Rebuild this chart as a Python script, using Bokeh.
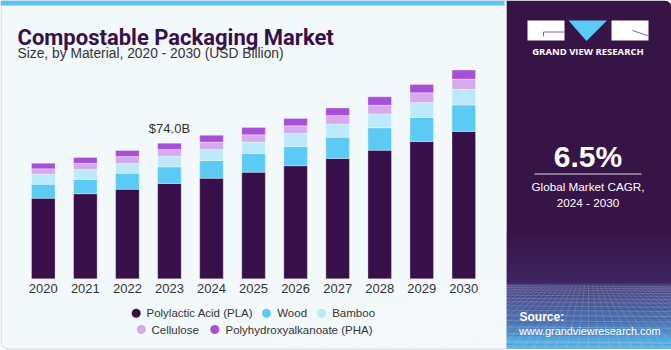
from bokeh.plotting import figure
from bokeh.models import Range1d, ColumnDataSource, Quad
from bokeh.core.properties import value
from bokeh.embed import file_html
from bokeh.resources import INLINE

# ---------------- data ----------------
years = [2020, 2021, 2022, 2023, 2024, 2025, 2026, 2027, 2028, 2029, 2030]
pla = [44.0, 46.4, 48.9, 52.0, 54.9, 58.2, 61.7, 65.7, 70.2, 74.9, 80.4]
wood = [7.6, 7.8, 8.7, 9.1, 9.7, 10.2, 10.5, 11.5, 12.2, 13.1, 14.4]
bamboo = [5.5, 5.5, 5.3, 5.8, 6.0, 6.2, 7.1, 7.3, 7.6, 8.2, 8.6]
cellulose = [2.9, 3.4, 3.8, 3.7, 4.0, 4.0, 4.2, 4.6, 4.7, 5.3, 5.6]
pha = [3.1, 3.1, 3.3, 3.4, 3.7, 4.0, 4.0, 4.1, 4.6, 4.5, 4.9]
series_names = ["Polylactic Acid (PLA)", "Wood", "Bamboo", "Cellulose",
                "Polyhydroxyalkanoate (PHA)"]
series_colors = ["#37104A", "#5BCBF5", "#BDEAFA", "#D6AAEC", "#A64FD9"]
year_labels = [str(y) for y in years]
annotated_year = 2023
title_text = "Compostable Packaging Market"
subtitle_text = "Size, by Material, 2020 - 2030 (USD Billion)"
cagr_text = "6.5%"
cagr_caption = ["Global Market CAGR,", "2024 - 2030"]
brand_text = "GRAND VIEW RESEARCH"
source_lines = ["Source:", "www.grandviewresearch.com"]

# ---------------- layout ----------------
W, H = 671, 350
PANEL_X = 506
DARK = "#371446"
TXT = "#333333"
SANS = "Liberation Sans"

p = figure(width=W, height=H, x_range=Range1d(0, W), y_range=Range1d(H, 0),
           output_backend="svg", toolbar_location=None, min_border=0,
           x_axis_type=None, y_axis_type=None, outline_line_color=None,
           background_fill_color="white", border_fill_color="white")
p.grid.visible = False

# scales for the data: year axis and value axis
px0, pstep = 42.8, 42.05          # pixel of first year, pixels per year
base, k = 278.3, 1.8324           # baseline pixel, pixels per USD billion
p.extra_x_ranges = {"yr": Range1d(years[0] - px0 / pstep, years[0] + (W - px0) / pstep)}
p.extra_y_ranges = {"val": Range1d(-(H - base) / k, base / k)}

has_radius = "border_radius" in Quad.properties()

def rquad(left, right, top, bottom, radius=None, **kw):
    if has_radius and radius is not None:
        kw["border_radius"] = radius
    return p.quad(left=[left], right=[right], top=[top], bottom=[bottom], **kw)

# left card
rquad(0.5, PANEL_X, 0, H - 1.5, radius=(0, 0, 0, 7), fill_color="#F3F8FB",
      line_color="#D4D6D8", line_width=1)
rquad(0, PANEL_X, 0, 5, fill_color="#5CC4EE", line_color=None)

# right panel
rquad(PANEL_X, W, 0, H - 2, radius=(0, 7, 0, 0), fill_color=DARK, line_color=None)

def mix(c1, c2, t):
    a = [int(c1[i:i + 2], 16) for i in (1, 3, 5)]
    b = [int(c2[i:i + 2], 16) for i in (1, 3, 5)]
    return "#%02x%02x%02x" % tuple(round(a[j] + (b[j] - a[j]) * t) for j in range(3))

# gradient at bottom of panel
n1 = 20
for i in range(n1):
    y0 = 230 + (283 - 230) * i / n1
    y1 = 230 + (283 - 230) * (i + 1) / n1
    p.quad(left=[PANEL_X], right=[W], top=[y0], bottom=[y1 + 0.3],
           fill_color=mix(DARK, "#3E2563", i / (n1 - 1)), line_color=None)
n2 = 30
for i in range(n2):
    y0 = 283 + (348 - 283) * i / n2
    y1 = 283 + (348 - 283) * (i + 1) / n2
    t = i / (n2 - 1)
    c = mix("#4A3F7E", "#4C78B8", min(1, t * 1.6)) if t < 0.62 else mix("#4C78B8", "#5CBDEE", (t - 0.62) / 0.38)
    p.quad(left=[PANEL_X], right=[W], top=[y0], bottom=[y1 + 0.3], fill_color=c, line_color=None)

# perspective grid texture
hx0, hx1, hy0, hy1 = [], [], [], []
yy = 285.0
step = 2.0
while yy < 348:
    hx0.append(PANEL_X); hx1.append(W); hy0.append(yy); hy1.append(yy + 1.5)
    yy += step
    step *= 1.12
p.segment(x0=hx0, y0=hy0, x1=hx1, y1=hy1, line_color="white", line_alpha=0.16, line_width=1)
vx0, vx1, vy0, vy1 = [], [], [], []
for j in range(-30, 31):
    vx0.append(588 + j * 4.0); vy0.append(285)
    vx1.append(588 + j * 11.0); vy1.append(348)
p.segment(x0=vx0, y0=vy0, x1=vx1, y1=vy1, line_color="white", line_alpha=0.13, line_width=1)
rquad(PANEL_X - 2, PANEL_X, 0, H - 1.5, fill_color="#F3F8FB", line_color=None)

# logo
p.quad(left=[527, 611], right=[564, 648], top=[20, 20], bottom=[40, 40],
       fill_color="white", line_color=None)
p.patch(x=[568, 606.5, 586], y=[20, 20, 40.5], fill_color="#5BCBF5", line_color=None)
p.multi_line(xs=[[543, 564], [543, 543], [632, 648]], ys=[[31.5, 31.5], [31.5, 36], [30, 35.5]],
             line_color="#7A6A86", line_width=1)
p.text(x=[587.5], y=[51], text=[brand_text], text_font=value("Open Sans"), text_font_style="bold",
       text_font_size="9.5px", text_color="white", text_align="center", text_baseline="middle")

# CAGR
p.text(x=[587.5], y=[156], text=[cagr_text], text_font=value(SANS), text_font_style="bold",
       text_font_size="30px", text_color="white", text_align="center", text_baseline="middle")
p.segment(x0=[534], y0=[173.5], x1=[641], y1=[173.5], line_color="white", line_alpha=0.85, line_width=1)
p.text(x=[587.5, 587.5], y=[185.5, 201.5], text=cagr_caption, text_font=value(SANS),
       text_font_size="11.7px", text_color="white", text_align="center", text_baseline="middle")

# source
p.text(x=[519], y=[316.5], text=[source_lines[0]], text_font=value(SANS), text_font_style="bold",
       text_font_size="12px", text_color="white", text_baseline="middle")
p.text(x=[518.5], y=[330.5], text=[source_lines[1]], text_font=value(SANS),
       text_font_size="10.9px", text_color="white", text_baseline="middle")

# titles
p.text(x=[17], y=[36.5], text=[title_text], text_font=value("Roboto"), text_font_style="bold",
       text_font_size="22px", text_color="#37104A", text_baseline="alphabetic")
p.text(x=[17], y=[52.5], text=[subtitle_text], text_font=value(SANS),
       text_font_size="13.8px", text_color=TXT, text_baseline="alphabetic")

# bars
keys = ["pla", "wood", "bamboo", "cellulose", "pha"]
src = ColumnDataSource(dict(year=years, pla=pla, wood=wood, bamboo=bamboo,
                            cellulose=cellulose, pha=pha))
p.vbar_stack(keys, x="year", width=0.56, fill_color=series_colors, line_color="white",
             line_alpha=0.3, line_width=1, source=src, x_range_name="yr", y_range_name="val")

# annotation of one total
idx = years.index(annotated_year)
total = pla[idx] + wood[idx] + bamboo[idx] + cellulose[idx] + pha[idx]
p.text(x=[annotated_year], y=[total + 8], text=[f"${total:.1f}B"], text_font=value(SANS),
       text_font_size="13px", text_color=TXT, text_align="center", text_baseline="middle",
       x_range_name="yr", y_range_name="val")

# year tick labels
p.text(x=years, y=[287.5] * len(years), text=year_labels, text_font=value(SANS),
       text_font_size="13px", text_color=TXT, text_align="center", text_baseline="middle",
       x_range_name="yr")

# legend (two centred rows)
legend_rows = [[0, 1, 2], [3, 4]]
legend_pos = [[(135.7, 146), (266, 276.7), (321, 331.7)], [(140.7, 151), (214.3, 225)]]
legend_y = [312.7, 329]
for row, pos, ly in zip(legend_rows, legend_pos, legend_y):
    for i, (cx, tx) in zip(row, pos):
        p.scatter(x=[cx], y=[ly], size=9, marker="circle", fill_color=series_colors[i],
                  line_color=None)
        p.text(x=[tx], y=[ly], text=[series_names[i]], text_font=value(SANS),
               text_font_size="11.5px", text_color=TXT, text_baseline="middle")

open("out.html", "w").write(file_html(p, INLINE))
